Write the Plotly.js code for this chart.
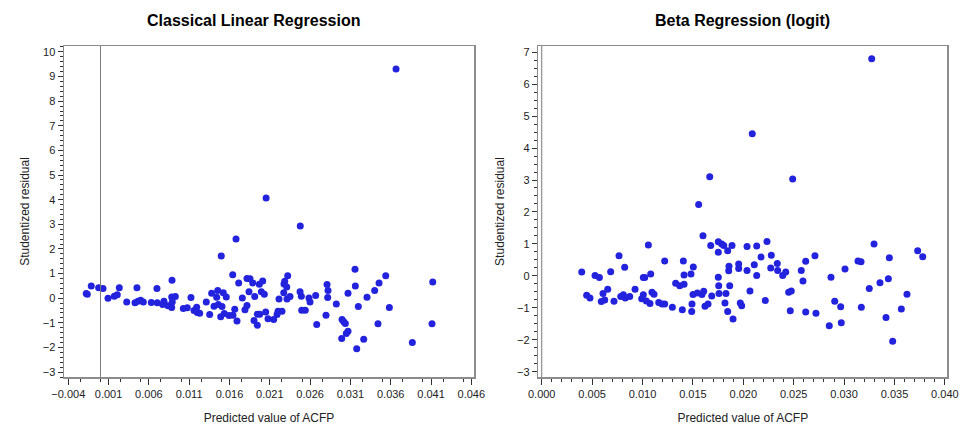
<!DOCTYPE html>
<html>
<head>
<meta charset="utf-8">
<script src="https://cdn.plot.ly/plotly-3.0.1.min.js"></script>
<style>html,body{margin:0;padding:0;background:#fff;}#chart{width:961px;height:425px;}</style>
</head>
<body>
<div id="chart"></div>
<script>
// Classical Linear Regression: predicted value vs studentized residual
const linPred = [-0.00177,-0.00164,-0.00115,-0.00023,0.00031,0.00093,0.00171,0.00208,0.00233,0.00325,
  0.00428,0.00452,0.00465,0.00498,0.00531,0.0063,0.0070,0.00704,0.00771,0.00787,
  0.00837,0.00887,0.00883,0.00928,0.0089,0.00883,0.01027,0.01076,0.01122,0.0116,
  0.01193,0.012,0.0123,0.01312,0.01354,0.01379,0.01408,0.01441,0.01454,0.01461,
  0.01498,0.01507,0.01491,0.01523,0.0156,0.01535,0.01594,0.01643,0.01665,0.01681,
  0.0164,0.01693,0.01714,0.01759,0.01792,0.01817,0.01842,0.01817,0.01854,0.01888,
  0.01913,0.0197,0.02012,0.01995,0.02032,0.01945,0.01975,0.01904,0.01945,0.02049,
  0.02078,0.02054,0.03666,0.02478,
  0.02322,0.02285,0.02276,0.0231,0.02273,0.02214,0.02313,0.02351,0.02202,0.02251,
  0.0219,0.02148,0.02475,0.02491,0.02496,0.0254,0.02586,0.02599,0.02669,0.02682,
  0.02797,0.0281,0.02822,0.02818,0.02925,0.02996,0.03017,0.03037,0.0307,0.03049,
  0.0307,0.02992,0.03157,0.03161,0.03198,0.03178,0.03265,0.03306,0.03401,0.03455,
  0.03538,0.03442,0.03583,0.03868,0.04121,0.04112];
const linResid = [0.19,0.16,0.49,0.42,0.39,0.00,0.08,0.14,0.42,-0.15,
  -0.19,0.42,-0.12,-0.08,-0.15,-0.18,0.39,-0.19,-0.26,-0.12,
  -0.31,0.73,0.05,0.07,-0.15,-0.38,-0.42,-0.39,0.03,-0.5,
  -0.37,-0.58,-0.61,-0.15,-0.66,0.2,-0.33,0.04,0.31,-0.26,
  1.71,-0.34,-0.75,0.22,0.05,-0.62,-0.7,-0.69,-0.45,2.4,
  0.95,-0.93,0.62,0.01,-0.47,-0.3,0.26,0.8,0.79,0.62,
  0.07,0.57,0.7,0.26,0.16,-0.65,-0.65,-0.91,-1.1,-0.56,
  -0.83,4.07,9.31,2.93,
  0.91,0.69,0.58,0.45,0.22,-0.03,-0.03,0.07,-0.53,-0.53,
  -0.66,-0.87,0.26,0.08,-0.49,-0.49,0.01,-0.15,0.11,-1.07,
  -0.69,0.56,0.31,0.03,-0.24,-0.87,-0.96,-1.03,0.2,-1.43,
  -1.34,-1.64,1.18,0.5,-0.34,-2.05,-1.67,0.04,0.31,0.62,
  0.91,-1.04,-0.38,-1.8,0.66,-1.04];

// Beta Regression (logit)
const betaPred = [0.00397,0.00446,0.00479,0.00529,0.00572,0.00608,0.00591,0.00625,0.00655,0.00684,
  0.00717,0.00767,0.00784,0.0081,0.00823,0.00829,0.00873,0.00926,0.01058,0.00992,
  0.01008,0.01022,0.01008,0.01038,0.01081,0.01094,0.01114,0.01074,0.01161,0.01194,
  0.0122,0.0122,0.01296,0.01329,0.01369,0.01412,0.01405,0.01412,0.01395,0.01481,
  0.01504,0.01491,0.01488,0.01501,0.01544,0.0159,0.01607,0.016,0.0162,0.0165,
  0.01677,0.01687,0.01752,0.01752,0.01786,0.01806,0.01752,0.01756,0.01759,0.01818,
  0.01828,0.01845,0.01898,0.01845,0.01888,0.01858,0.01855,0.01865,0.01954,0.01954,
  0.0197,0.01984,0.02037,0.02037,
  0.02133,0.02235,0.02176,0.02278,0.02109,0.02133,0.02272,0.02337,0.02341,0.02391,
  0.02421,0.02066,0.02218,0.0245,0.02476,0.02466,0.02575,0.02619,0.02592,0.02619,
  0.02711,0.02721,0.0287,0.02907,0.02966,0.02853,0.02972,0.03009,0.03138,0.03168,
  0.03171,0.0325,0.03297,0.03356,0.03439,0.03449,0.03416,0.03482,0.03568,0.03624,
  0.0373,0.0378,
  0.01667,0.01557,0.02089,0.0249,0.03274];
const betaResid = [0.12,-0.6,-0.69,0.01,-0.05,-0.55,-0.8,-0.75,-0.42,0.13,
  -0.79,0.63,-0.64,-0.59,0.27,-0.69,-0.64,-0.42,0.97,-0.71,
  -0.59,-0.05,-0.05,-0.78,0.06,-0.51,-0.57,-0.86,-0.83,-0.88,
  -0.88,0.47,-0.98,-0.23,-0.31,-0.26,0.47,0.03,-1.06,0.06,
  0.28,-0.88,-1.11,-0.58,-0.53,-0.58,-0.48,1.26,-0.95,-0.88,
  0.95,-0.63,1.07,0.74,1.0,0.95,-0.04,-0.31,-0.55,-0.85,
  -0.55,-1.11,-1.35,0.79,0.95,0.3,0.16,-0.31,0.37,0.23,
  -0.85,-0.93,0.92,0.17,
  0.94,1.08,0.59,0.65,0.35,0.01,0.25,0.39,0.17,0.01,
  0.12,-0.47,-0.77,-0.51,-0.47,-1.09,0.17,0.46,-0.16,-1.13,
  0.63,-1.17,-0.04,-0.79,-0.96,-1.56,-1.46,0.22,0.47,0.44,
  -0.98,-0.39,1.0,-0.21,-0.09,0.57,-1.3,-2.04,-1.03,-0.57,
  0.79,0.6,
  3.1,2.23,4.45,3.03,6.79];

const titles = ["Classical Linear Regression", "Beta Regression (logit)"];
const xTitle = "Predicted value of ACFP";
const yTitle = "Studentized residual";

const dotColor = "#2323de";
const frameColor = "#8c8c8c";
const font = "Liberation Sans, Arial, sans-serif";

const traces = [
  {x: linPred, y: linResid, type: "scatter", mode: "markers", xaxis: "x", yaxis: "y",
   marker: {color: dotColor, size: 7}, hoverinfo: "x+y", showlegend: false},
  {x: betaPred, y: betaResid, type: "scatter", mode: "markers", xaxis: "x2", yaxis: "y2",
   marker: {color: dotColor, size: 7}, hoverinfo: "x+y", showlegend: false}
];

function xa(domain, range, tick0, dtick, minor) {
  return {domain: domain, range: range, tick0: tick0, dtick: dtick, tickmode: "linear",
    tickformat: ".3f", ticks: "outside", ticklen: 6, tickcolor: "#333", tickwidth: 1,
    showline: true, mirror: true, linecolor: frameColor, linewidth: 1.5,
    showgrid: false, zeroline: false,
    minor: {dtick: minor, ticks: "outside", ticklen: 3, tickcolor: "#333", showgrid: false},
    tickfont: {family: font, size: 11, color: "#222"},
    title: {text: xTitle, font: {family: font, size: 12, color: "#222"}, standoff: 18}};
}
function ya(domain, range, dtick, minor, anchor) {
  return {domain: domain, range: range, tick0: 0, dtick: dtick, tickmode: "linear",
    ticks: "outside", ticklen: 5, tickcolor: "#333", tickwidth: 1, anchor: anchor,
    showline: true, mirror: true, linecolor: frameColor, linewidth: 1.5,
    showgrid: false, zeroline: false,
    minor: {dtick: minor, ticks: "outside", ticklen: 3, tickcolor: "#333", showgrid: false},
    tickfont: {family: font, size: 11, color: "#222"},
    title: {text: yTitle, font: {family: font, size: 12, color: "#222"}, standoff: 10}};
}

const yDom = [1 - 377/425, 1 - 46/425];
const layout = {
  width: 961, height: 425,
  margin: {l: 0, r: 0, t: 0, b: 0},
  paper_bgcolor: "#fff", plot_bgcolor: "#fff",
  showlegend: false,
  xaxis: Object.assign(xa([64/961, 474/961], [-0.00453, 0.04633], -0.004, 0.005, 0.0025), {anchor: "y"}),
  yaxis: ya(yDom, [-3.2, 10.24], 1, 0.2, "x"),
  xaxis2: Object.assign(xa([538.3/961, 947.3/961], [-0.00034, 0.04024], 0, 0.005, 0.001), {anchor: "y2"}),
  yaxis2: ya(yDom, [-3.16, 7.19], 1, 0.25, "x2"),
  shapes: [
    {type: "line", xref: "x", yref: "y domain", x0: 0, x1: 0, y0: 0, y1: 1, line: {color: "#7a7a7a", width: 1}},
    {type: "line", xref: "x2", yref: "y2 domain", x0: 0, x1: 0, y0: 0, y1: 1, line: {color: "#7a7a7a", width: 1}}
  ],
  annotations: [
    {text: "<b>" + titles[0] + "</b>", xref: "paper", yref: "paper", x: 253/961, y: 1 - 20/425,
     xanchor: "center", yanchor: "middle", showarrow: false, font: {family: font, size: 16, color: "#000"}},
    {text: "<b>" + titles[1] + "</b>", xref: "paper", yref: "paper", x: 742/961, y: 1 - 20/425,
     xanchor: "center", yanchor: "middle", showarrow: false, font: {family: font, size: 16, color: "#000"}}
  ]
};

Plotly.newPlot("chart", traces, layout, {displayModeBar: false, staticPlot: true});
</script>
</body>
</html>
